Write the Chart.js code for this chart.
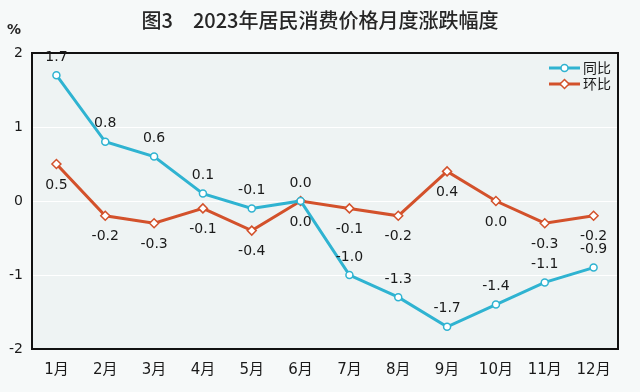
<!DOCTYPE html>
<html><head><meta charset="utf-8">
<script src="https://cdn.jsdelivr.net/npm/chart.js@4/dist/chart.umd.min.js"></script>
<style>
html,body{margin:0;padding:0;background:#f6f9f9;}
#wrap{width:640px;height:392px;position:relative;}
</style></head>
<body><div id="wrap"><canvas id="c" width="640" height="392"></canvas></div>
<script>
const titleText = '图3　2023年居民消费价格月度涨跌幅度';
const months = ['1月','2月','3月','4月','5月','6月','7月','8月','9月','10月','11月','12月'];
const yoy = [1.7, 0.8, 0.6, 0.1, -0.1, 0.0, -1.0, -1.3, -1.7, -1.4, -1.1, -0.9];
const mom = [0.5, -0.2, -0.3, -0.1, -0.4, 0.0, -0.1, -0.2, 0.4, 0.0, -0.3, -0.2];
const yTicks = [-2, -1, 0, 1, 2];
const seriesNames = ['同比', '环比'];
const blue = '#2fb3d1', red = '#d3512b';
const FONT = "'DejaVu Sans', 'Noto Sans CJK SC', sans-serif";

const deco = {
  id: 'deco',
  beforeDraw(chart) {
    const {ctx, chartArea: a} = chart;
    ctx.save();
    ctx.fillStyle = '#eef3f3';
    ctx.fillRect(a.left, a.top, a.right - a.left, a.bottom - a.top);
    ctx.fillStyle = '#262626';
    ctx.font = "500 20px 'Noto Sans CJK SC', sans-serif";
    ctx.textAlign = 'center'; ctx.textBaseline = 'middle';
    ctx.fillText(titleText, chart.width / 2, 20);
    ctx.font = "bold 14px " + FONT;
    ctx.fillText('%', chart.scales.y.left + 14, a.top - 23);
    ctx.restore();
  },
  afterDraw(chart) {
    const {ctx, chartArea: a} = chart;
    ctx.save();
    ctx.setLineDash([]);
    ctx.strokeStyle = '#111111'; ctx.lineWidth = 2;
    ctx.beginPath();
    ctx.moveTo(a.left, a.top); ctx.lineTo(a.right, a.top);
    ctx.lineTo(a.right, a.bottom); ctx.lineTo(a.left, a.bottom);
    ctx.closePath();
    ctx.stroke();
    ctx.font = "14px " + FONT;
    ctx.fillStyle = '#1a1a1a';
    ctx.textAlign = 'center'; ctx.textBaseline = 'middle';
    chart.data.datasets.forEach((ds, di) => {
      const meta = chart.getDatasetMeta(di);
      meta.data.forEach((pt, i) => {
        const off = di === 0 ? -18 : 21;
        ctx.fillText(ds.data[i].toFixed(1), pt.x, pt.y + off);
      });
    });
    const lx = a.right - 69;
    [[blue, 'circle', seriesNames[0]], [red, 'rectRot', seriesNames[1]]].forEach((it, k) => {
      const y = a.top + 15 + k * 16;
      ctx.strokeStyle = it[0]; ctx.lineWidth = 3;
      ctx.beginPath(); ctx.moveTo(lx, y); ctx.lineTo(lx + 31, y); ctx.stroke();
      ctx.fillStyle = '#fff'; ctx.strokeStyle = it[0]; ctx.lineWidth = 1.5;
      ctx.beginPath();
      if (it[1] === 'circle') { ctx.arc(lx + 15.5, y, 3.5, 0, Math.PI * 2); }
      else { ctx.moveTo(lx + 15.5, y - 4.5); ctx.lineTo(lx + 20, y); ctx.lineTo(lx + 15.5, y + 4.5); ctx.lineTo(lx + 11, y); ctx.closePath(); }
      ctx.fill(); ctx.stroke();
      ctx.fillStyle = '#1a1a1a';
      ctx.font = "14px 'Noto Sans CJK SC', sans-serif";
      ctx.textAlign = 'left';
      ctx.fillText(it[2], lx + 34, y);
    });
    ctx.restore();
  }
};

new Chart(document.getElementById('c'), {
  type: 'line',
  data: {
    labels: months,
    datasets: [
      {label: seriesNames[0], data: yoy, borderColor: blue, borderWidth: 3, pointStyle: 'circle',
       pointRadius: 3.5, pointBackgroundColor: '#fff', pointBorderColor: blue, pointBorderWidth: 1.5, tension: 0},
      {label: seriesNames[1], data: mom, borderColor: red, borderWidth: 3, pointStyle: 'rectRot',
       pointRadius: 4.5, pointBackgroundColor: '#fff', pointBorderColor: red, pointBorderWidth: 1.5, tension: 0}
    ]
  },
  options: {
    responsive: false, animation: false,
    layout: {padding: {left: 0, right: 22, top: 53, bottom: 0}},
    plugins: {legend: {display: false}, title: {display: false}, tooltip: {enabled: false}},
    scales: {
      x: {
        offset: true,
        grid: {display: false, drawTicks: false},
        border: {display: false},
        ticks: {padding: 12, color: '#1a1a1a', font: {size: 15, family: FONT}, maxRotation: 0, autoSkip: false},
        afterFit(s) { s.height = 43; }
      },
      y: {
        min: -2, max: 2,
        afterBuildTicks(s) { s.ticks = yTicks.map(v => ({value: v})); },
        grid: {color: 'rgba(255,255,255,0.95)', lineWidth: 1, drawTicks: false},
        border: {display: false},
        ticks: {padding: 9, color: '#1a1a1a', font: {size: 14, family: FONT}},
        afterFit(s) { s.width = 32; }
      }
    }
  },
  plugins: [deco]
});
</script></body></html>
